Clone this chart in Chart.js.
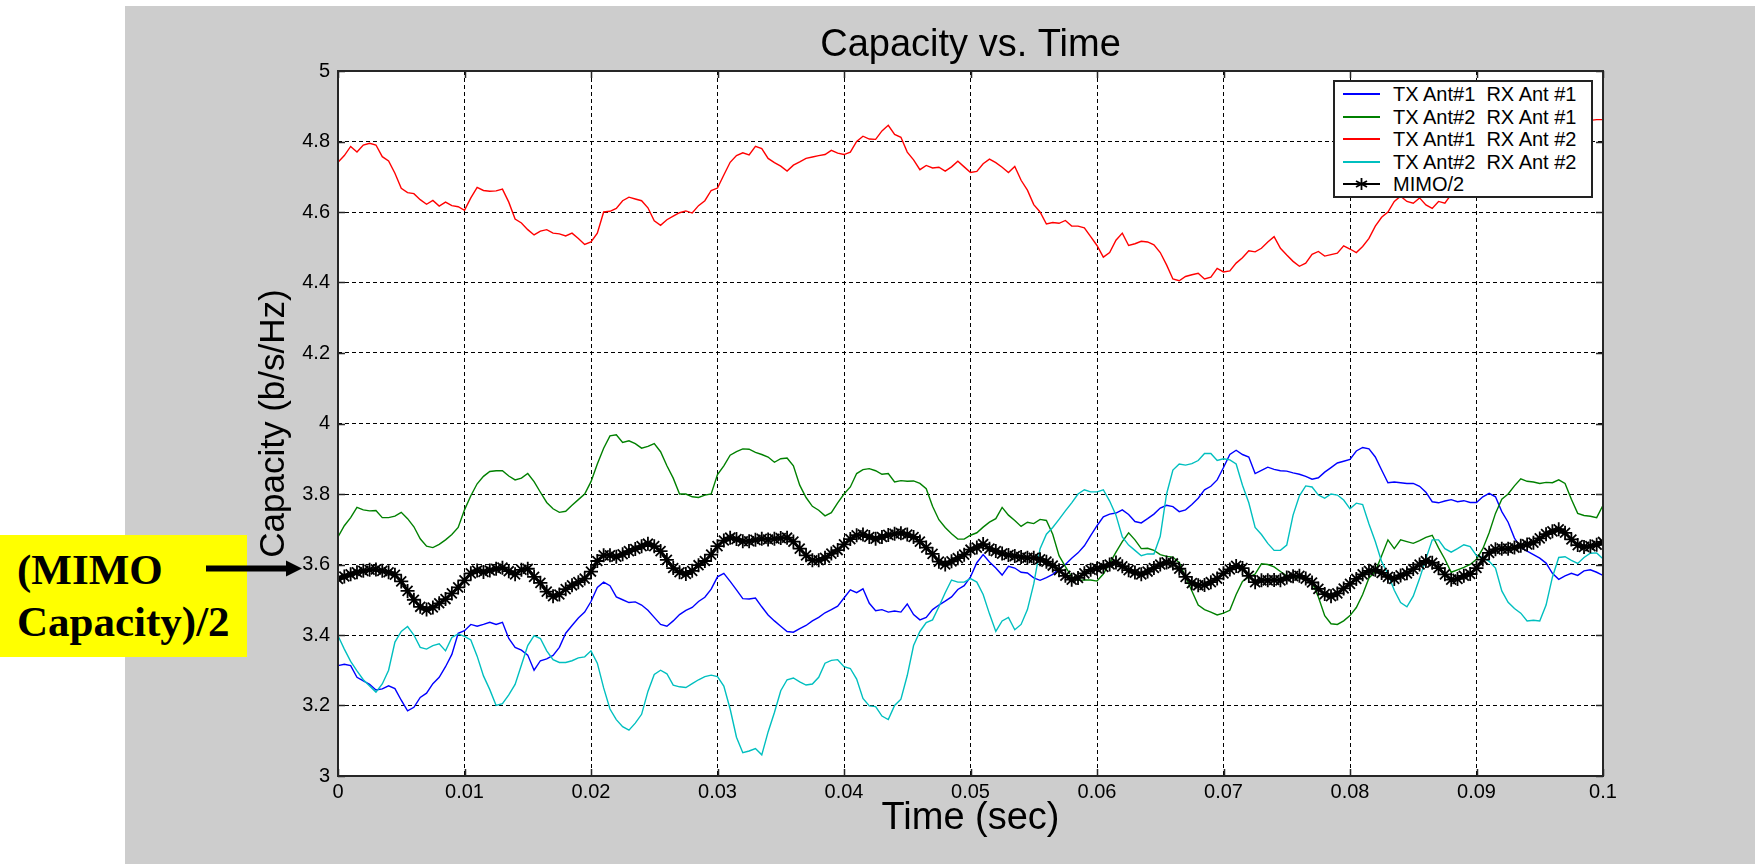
<!DOCTYPE html>
<html>
<head>
<meta charset="utf-8">
<script src="https://cdn.jsdelivr.net/npm/chart.js@4.4.1/dist/chart.umd.min.js"></script>
<style>
  html, body { margin:0; padding:0; background:#ffffff; width:1755px; height:864px; overflow:hidden; }
  #grey { position:absolute; left:125px; top:6px; width:1630px; height:858px; background:#cdcdcd; }
  #note { position:absolute; left:0px; top:535px; width:247px; height:122px; background:#ffff00; }
  .nl { position:absolute; left:17px; font-family:"Liberation Serif","Times New Roman",serif; font-weight:bold; font-size:43px; line-height:43px; color:#000; white-space:nowrap; }
  #c { position:absolute; left:0; top:0; width:1755px; height:864px; }
  #legend { position:absolute; left:1333px; top:80px; width:260px; height:118px; box-sizing:border-box; border:2px solid #222; background:#fff; font-family:"Liberation Sans",Arial,sans-serif; font-size:20px; color:#000; }
  #legend .row { position:absolute; left:0; height:22px; line-height:22px; width:256px; }
  #legend svg { position:absolute; left:8px; top:0; }
  #legend .txt { position:absolute; left:58px; top:0; white-space:pre; }
</style>
</head>
<body>
<div id="grey"></div>
<div id="note"></div>
<div class="nl" style="top:548px">(MIMO</div>
<div class="nl" style="top:600px">Capacity)/2</div>
<canvas id="c" width="1755" height="864"></canvas>
<div id="legend"></div>
<script>
// ---------------- data ----------------
const TIME_STEP = 0.0005;
const xTickLabels = ['0','0.01','0.02','0.03','0.04','0.05','0.06','0.07','0.08','0.09','0.1'];
const yTickLabels = ['3','3.2','3.4','3.6','3.8','4','4.2','4.4','4.6','4.8','5'];
const seriesLabels = ['TX Ant#1  RX Ant #1','TX Ant#2  RX Ant #1','TX Ant#1  RX Ant #2','TX Ant#2  RX Ant #2','MIMO/2'];

const tx1rx1 = [
3.313,3.317,3.313,3.28,3.27,3.26,3.244,3.247,3.256,3.248,
3.215,3.185,3.195,3.223,3.235,3.262,3.28,3.31,3.345,3.405,
3.412,3.43,3.425,3.43,3.436,3.43,3.436,3.39,3.365,3.357,
3.343,3.30,3.327,3.332,3.342,3.365,3.405,3.427,3.448,3.465,
3.495,3.535,3.55,3.54,3.508,3.50,3.492,3.494,3.485,3.47,
3.45,3.43,3.425,3.44,3.458,3.47,3.478,3.495,3.507,3.53,
3.565,3.575,3.552,3.528,3.503,3.502,3.505,3.48,3.457,3.44,
3.425,3.41,3.408,3.418,3.427,3.44,3.45,3.463,3.472,3.482,
3.505,3.528,3.52,3.531,3.49,3.469,3.472,3.465,3.468,3.465,
3.488,3.458,3.443,3.45,3.472,3.485,3.496,3.508,3.529,3.54,
3.565,3.605,3.628,3.607,3.59,3.57,3.595,3.59,3.578,3.576,
3.562,3.555,3.563,3.572,3.588,3.60,3.618,3.633,3.653,3.682,
3.71,3.735,3.743,3.746,3.755,3.742,3.722,3.718,3.73,3.743,
3.76,3.768,3.764,3.75,3.755,3.77,3.788,3.812,3.822,3.84,
3.875,3.912,3.924,3.912,3.905,3.858,3.867,3.876,3.87,3.866,
3.865,3.86,3.856,3.85,3.842,3.846,3.862,3.875,3.888,3.893,
3.898,3.922,3.932,3.928,3.905,3.868,3.832,3.834,3.832,3.83,
3.83,3.822,3.805,3.778,3.775,3.78,3.784,3.778,3.781,3.776,
3.776,3.792,3.802,3.792,3.75,3.72,3.675,3.648,3.638,3.628,
3.618,3.604,3.575,3.558,3.568,3.575,3.569,3.582,3.585,3.578,
3.569];

const tx2rx1 = [
3.678,3.71,3.733,3.762,3.755,3.752,3.753,3.733,3.733,3.737,
3.748,3.73,3.707,3.673,3.652,3.648,3.657,3.67,3.685,3.705,
3.755,3.795,3.829,3.85,3.864,3.866,3.866,3.851,3.84,3.845,
3.858,3.835,3.805,3.776,3.758,3.748,3.751,3.768,3.784,3.80,
3.835,3.885,3.93,3.965,3.968,3.946,3.951,3.943,3.93,3.935,
3.943,3.92,3.88,3.845,3.80,3.80,3.792,3.79,3.797,3.80,
3.855,3.88,3.91,3.92,3.928,3.927,3.918,3.912,3.905,3.89,
3.90,3.902,3.88,3.825,3.79,3.765,3.754,3.738,3.747,3.775,
3.80,3.82,3.858,3.869,3.872,3.866,3.856,3.858,3.834,3.838,
3.836,3.837,3.83,3.815,3.765,3.727,3.705,3.687,3.672,3.672,
3.683,3.69,3.706,3.72,3.73,3.762,3.74,3.725,3.708,3.72,
3.716,3.728,3.725,3.686,3.625,3.594,3.565,3.555,3.556,3.556,
3.553,3.573,3.603,3.635,3.665,3.69,3.67,3.645,3.646,3.64,
3.628,3.623,3.621,3.605,3.565,3.525,3.485,3.472,3.465,3.457,
3.462,3.47,3.515,3.552,3.565,3.573,3.602,3.60,3.593,3.58,
3.568,3.565,3.562,3.56,3.55,3.508,3.455,3.432,3.43,3.44,
3.455,3.478,3.515,3.562,3.58,3.625,3.67,3.645,3.67,3.665,
3.66,3.668,3.677,3.683,3.647,3.615,3.578,3.585,3.592,3.60,
3.615,3.645,3.69,3.745,3.785,3.80,3.823,3.843,3.836,3.834,
3.83,3.833,3.832,3.84,3.83,3.785,3.745,3.739,3.737,3.733,
3.768];

const tx1rx2 = [
4.741,4.76,4.786,4.77,4.79,4.795,4.79,4.757,4.745,4.71,
4.667,4.655,4.652,4.635,4.622,4.633,4.617,4.628,4.618,4.615,
4.605,4.64,4.67,4.661,4.659,4.66,4.665,4.628,4.58,4.569,
4.55,4.535,4.546,4.55,4.54,4.538,4.532,4.54,4.525,4.508,
4.515,4.54,4.60,4.602,4.61,4.632,4.642,4.637,4.632,4.612,
4.575,4.562,4.578,4.588,4.598,4.603,4.597,4.618,4.632,4.661,
4.668,4.705,4.741,4.76,4.768,4.762,4.786,4.78,4.752,4.74,
4.73,4.716,4.733,4.742,4.752,4.756,4.76,4.763,4.775,4.767,
4.763,4.77,4.80,4.815,4.807,4.806,4.83,4.846,4.82,4.812,
4.77,4.748,4.72,4.732,4.725,4.727,4.716,4.728,4.744,4.728,
4.712,4.715,4.737,4.75,4.74,4.727,4.712,4.729,4.69,4.662,
4.621,4.60,4.566,4.57,4.568,4.576,4.56,4.56,4.555,4.53,
4.505,4.472,4.485,4.52,4.54,4.505,4.51,4.517,4.515,4.507,
4.485,4.45,4.41,4.405,4.417,4.422,4.426,4.41,4.415,4.44,
4.43,4.433,4.455,4.47,4.49,4.487,4.497,4.515,4.53,4.497,
4.478,4.46,4.446,4.455,4.48,4.488,4.475,4.479,4.483,4.504,
4.495,4.485,4.502,4.525,4.56,4.585,4.60,4.63,4.645,4.63,
4.625,4.64,4.62,4.61,4.63,4.625,4.65,4.68,4.70,4.72,
4.74,4.75,4.77,4.78,4.80,4.79,4.81,4.82,4.83,4.84,
4.83,4.845,4.85,4.85,4.855,4.86,4.855,4.86,4.86,4.862,
4.862];

const tx2rx2 = [
3.398,3.36,3.325,3.298,3.273,3.255,3.238,3.261,3.30,3.38,
3.41,3.424,3.40,3.365,3.36,3.37,3.375,3.355,3.393,3.403,
3.396,3.386,3.34,3.284,3.245,3.20,3.205,3.23,3.26,3.315,
3.37,3.398,3.39,3.355,3.33,3.322,3.322,3.327,3.335,3.338,
3.355,3.32,3.25,3.19,3.16,3.14,3.13,3.15,3.175,3.24,
3.288,3.30,3.29,3.258,3.253,3.251,3.262,3.273,3.282,3.286,
3.282,3.255,3.19,3.11,3.066,3.071,3.078,3.06,3.125,3.18,
3.242,3.273,3.278,3.267,3.258,3.261,3.28,3.32,3.328,3.33,
3.31,3.305,3.275,3.22,3.199,3.197,3.17,3.16,3.20,3.218,
3.285,3.37,3.41,3.435,3.443,3.48,3.52,3.556,3.55,3.55,
3.56,3.55,3.515,3.46,3.41,3.44,3.45,3.415,3.43,3.472,
3.545,3.645,3.686,3.705,3.728,3.752,3.775,3.80,3.812,3.806,
3.806,3.812,3.78,3.74,3.678,3.655,3.64,3.625,3.63,3.63,
3.68,3.80,3.868,3.885,3.882,3.886,3.895,3.915,3.915,3.895,
3.90,3.897,3.885,3.825,3.775,3.705,3.685,3.66,3.64,3.64,
3.655,3.74,3.795,3.823,3.82,3.797,3.788,3.80,3.797,3.783,
3.758,3.774,3.77,3.715,3.665,3.608,3.573,3.527,3.492,3.48,
3.51,3.56,3.616,3.67,3.67,3.645,3.635,3.645,3.656,3.651,
3.625,3.62,3.609,3.59,3.525,3.493,3.475,3.462,3.44,3.442,
3.44,3.485,3.564,3.62,3.622,3.612,3.603,3.62,3.632,3.633,
3.616];

const mimoHalf = [
3.559,3.566,3.572,3.578,3.582,3.585,3.586,3.582,3.578,3.571,
3.552,3.525,3.50,3.48,3.472,3.478,3.49,3.502,3.518,3.535,
3.555,3.575,3.583,3.579,3.583,3.588,3.591,3.581,3.572,3.585,
3.588,3.565,3.548,3.523,3.51,3.515,3.53,3.541,3.55,3.56,
3.58,3.61,3.626,3.626,3.622,3.629,3.638,3.644,3.652,3.659,
3.652,3.638,3.613,3.59,3.578,3.573,3.582,3.598,3.61,3.628,
3.652,3.668,3.676,3.672,3.666,3.666,3.670,3.673,3.671,3.673,
3.675,3.676,3.665,3.645,3.626,3.612,3.612,3.619,3.631,3.641,
3.657,3.672,3.683,3.685,3.678,3.673,3.678,3.684,3.687,3.689,
3.685,3.678,3.665,3.648,3.63,3.608,3.60,3.609,3.618,3.628,
3.642,3.648,3.658,3.645,3.638,3.631,3.627,3.624,3.621,3.619,
3.619,3.615,3.608,3.597,3.584,3.568,3.557,3.562,3.575,3.585,
3.589,3.593,3.60,3.606,3.595,3.584,3.577,3.572,3.58,3.59,
3.60,3.606,3.603,3.588,3.565,3.547,3.541,3.542,3.55,3.56,
3.575,3.586,3.596,3.59,3.568,3.55,3.555,3.555,3.556,3.555,
3.563,3.567,3.568,3.56,3.549,3.531,3.516,3.51,3.518,3.532,
3.545,3.559,3.572,3.582,3.585,3.576,3.565,3.559,3.569,3.575,
3.587,3.60,3.61,3.605,3.59,3.572,3.557,3.559,3.568,3.573,
3.59,3.614,3.633,3.643,3.645,3.645,3.648,3.653,3.657,3.662,
3.674,3.686,3.694,3.70,3.69,3.671,3.655,3.65,3.652,3.656,
3.664];

const seriesColors = ['#0000ff','#008000','#ff0000','#00bfbf','#000000'];

// ---------------- build ----------------
const times = tx1rx1.map((_, i) => +(i * TIME_STEP).toFixed(4));
const toPts = arr => arr.map((v, i) => ({x: times[i], y: v}));

const FONT = '"Liberation Sans", Arial, Helvetica, sans-serif';

const frame = {
  id: 'frame',
  beforeDraw(chart) {
    const {ctx, chartArea: a} = chart;
    ctx.save();
    ctx.fillStyle = '#ffffff';
    ctx.fillRect(a.left, a.top, a.right - a.left, a.bottom - a.top);
    ctx.restore();
  },
  afterDatasetsDraw(chart) {
    const {ctx, chartArea: a, scales} = chart;
    ctx.save();
    ctx.strokeStyle = '#262626';
    ctx.lineWidth = 1.5;
    const tl = 7;
    ctx.beginPath();
    scales.x.ticks.forEach(t => {
      const px = Math.round(scales.x.getPixelForValue(t.value)) + 0.5;
      ctx.moveTo(px, a.bottom); ctx.lineTo(px, a.bottom - tl);
      ctx.moveTo(px, a.top); ctx.lineTo(px, a.top + tl);
    });
    scales.y.ticks.forEach(t => {
      const py = Math.round(scales.y.getPixelForValue(t.value)) + 0.5;
      ctx.moveTo(a.left, py); ctx.lineTo(a.left + tl, py);
      ctx.moveTo(a.right, py); ctx.lineTo(a.right - tl, py);
    });
    ctx.stroke();
    ctx.lineWidth = 2;
    ctx.strokeRect(a.left, a.top, a.right - a.left, a.bottom - a.top);
    ctx.restore();
  },
  afterDraw(chart) {
    const {ctx, scales} = chart;
    const y = scales.y.getPixelForValue(3.6) + 4;
    ctx.save();
    ctx.strokeStyle = '#000';
    ctx.fillStyle = '#000';
    ctx.lineWidth = 6;
    ctx.beginPath();
    ctx.moveTo(206, y); ctx.lineTo(290, y);
    ctx.stroke();
    ctx.beginPath();
    ctx.moveTo(286, y - 8); ctx.lineTo(302, y); ctx.lineTo(286, y + 8);
    ctx.closePath();
    ctx.fill();
    ctx.restore();
  }
};

const thin = (i) => ({
  label: seriesLabels[i],
  data: toPts([tx1rx1, tx2rx1, tx1rx2, tx2rx2][i]),
  borderColor: seriesColors[i],
  backgroundColor: seriesColors[i],
  borderWidth: 1.4,
  pointRadius: 0,
  tension: 0,
  order: 5 - i
});

const chart = new Chart(document.getElementById('c').getContext('2d'), {
  type: 'line',
  data: {
    datasets: [
      thin(0), thin(1), thin(2), thin(3),
      {
        label: seriesLabels[4],
        data: toPts(mimoHalf),
        borderColor: '#000',
        backgroundColor: '#000',
        borderWidth: 3,
        pointStyle: 'star',
        pointRadius: 7,
        pointBorderWidth: 1.8,
        pointBorderColor: '#000',
        tension: 0,
        order: 1
      }
    ]
  },
  options: {
    responsive: false,
    animation: false,
    devicePixelRatio: 1,
    events: [],
    layout: { padding: { left: 0, right: 152, top: 0, bottom: 0 } },
    plugins: {
      legend: { display: false },
      tooltip: { enabled: false },
      title: {
        display: true,
        fullSize: false,
        text: 'Capacity vs. Time',
        color: '#000',
        font: { family: FONT, size: 38, weight: 'normal', lineHeight: 1.2 },
        padding: { top: 23, bottom: 2.4 }
      }
    },
    scales: {
      x: {
        type: 'linear',
        min: 0, max: 0.1,
        ticks: {
          stepSize: 0.01,
          autoSkip: false,
          maxRotation: 0,
          padding: 4,
          color: '#000',
          font: { family: FONT, size: 20 },
          callback: (v, i) => xTickLabels[i]
        },
        grid: { color: '#000', lineWidth: 1, drawTicks: false },
        border: { display: false, dash: [4, 3] },
        title: {
          display: true, text: 'Time (sec)', color: '#000',
          font: { family: FONT, size: 38, weight: 'normal', lineHeight: 1.2 },
          padding: { top: 0, bottom: 23 }
        },
        afterFit: s => { s.height = 88; }
      },
      y: {
        type: 'linear',
        min: 3, max: 5,
        ticks: {
          stepSize: 0.2,
          autoSkip: false,
          padding: 8,
          color: '#000',
          font: { family: FONT, size: 20 },
          callback: (v, i) => yTickLabels[i]
        },
        grid: { color: '#000', lineWidth: 1, drawTicks: false },
        border: { display: false, dash: [4, 3] },
        title: {
          display: true, text: 'Capacity (b/s/Hz)', color: '#000',
          font: { family: FONT, size: 35, weight: 'normal', lineHeight: 1.2 },
          padding: { top: 253, bottom: 0 }
        },
        afterFit: s => { s.width = 338; }
      }
    }
  },
  plugins: [frame]
});

// ---------------- HTML legend (drawn over the plot, like the original) ----------------
(function buildLegend() {
  const box = document.getElementById('legend');
  const rowCenters = [12, 35, 57, 80, 102];
  chart.data.datasets.forEach((ds, i) => {
    const row = document.createElement('div');
    row.className = 'row';
    row.style.top = (rowCenters[i] - 11) + 'px';
    const svgNS = 'http://www.w3.org/2000/svg';
    const svg = document.createElementNS(svgNS, 'svg');
    svg.setAttribute('width', '38'); svg.setAttribute('height', '22');
    const ln = document.createElementNS(svgNS, 'line');
    ln.setAttribute('x1', '0'); ln.setAttribute('x2', '37');
    ln.setAttribute('y1', '11'); ln.setAttribute('y2', '11');
    ln.setAttribute('stroke', ds.borderColor);
    ln.setAttribute('stroke-width', i === 4 ? '1.8' : '2');
    svg.appendChild(ln);
    if (ds.pointStyle === 'star') {
      const p = document.createElementNS(svgNS, 'path');
      p.setAttribute('d', 'M18.5 5 V17 M13 8 L24 14 M13 14 L24 8');
      p.setAttribute('stroke', '#000'); p.setAttribute('stroke-width', '1.8');
      svg.appendChild(p);
    }
    row.appendChild(svg);
    const t = document.createElement('span');
    t.className = 'txt';
    t.textContent = ds.label;
    row.appendChild(t);
    box.appendChild(row);
  });
})();
</script>
</body>
</html>
